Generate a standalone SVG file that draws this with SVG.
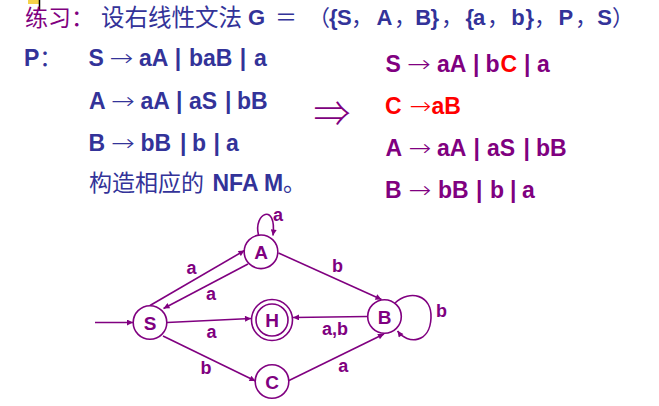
<svg xmlns="http://www.w3.org/2000/svg" width="659" height="406" viewBox="0 0 659 406">
<defs>
<style>
.cjk{font-family:"Noto Sans CJK SC","Noto Sans",sans-serif;font-weight:normal}
.lat{font-family:"Liberation Sans",Arial,sans-serif;font-weight:bold}
.arr{font-family:"DejaVu Sans","Liberation Sans",sans-serif;font-weight:200;font-size:23px}
.ind{fill:#333399}
.pur{fill:#800080}
.red{fill:#FF0000}
.g{font-size:23px}
.t{font-size:22px}
.node circle{fill:#FFFFFF;stroke:#800080;stroke-width:1.6}
.node text{font-family:"Liberation Sans",Arial,sans-serif;font-weight:bold;font-size:19px;fill:#800080;text-anchor:middle}
.edge{fill:none;stroke:#800080;stroke-width:1.6;marker-end:url(#ah)}
.elab{font-family:"Liberation Sans",Arial,sans-serif;font-weight:bold;font-size:18px;fill:#800080;text-anchor:middle}
</style>
<marker id="ah" viewBox="0 0 10 10" refX="10" refY="5" markerWidth="8" markerHeight="6" markerUnits="userSpaceOnUse" orient="auto">
<path d="M0,0 L10,5 L0,10 z" fill="#800080"/>
</marker>
</defs>
<rect width="659" height="406" fill="#FFFFFF"/>
<rect x="28" y="0" width="11" height="4" fill="#F5D34A"/>
<line x1="39.5" y1="0" x2="39.5" y2="10" stroke="#000000" stroke-width="1.5"/>

<g id="title">
<text class="cjk pur" x="25" y="25.5" font-size="23">练习：</text>
<text class="cjk ind" x="101" y="25.5" font-size="23.5">设右线性文法</text>
<text class="ind t" y="25">
<tspan class="lat" x="248">G</tspan>
<tspan class="cjk" x="275">＝</tspan>
<tspan class="cjk" x="308">（</tspan>
<tspan class="lat" x="329">{</tspan><tspan class="lat" x="337">S</tspan>
<tspan class="cjk" x="351">，</tspan>
<tspan class="lat" x="376.5">A</tspan>
<tspan class="cjk" x="394">，</tspan>
<tspan class="lat" x="415.3">B</tspan><tspan class="lat" x="430.5">}</tspan>
<tspan class="cjk" x="441">，</tspan>
<tspan class="lat" x="465.5">{</tspan><tspan class="lat" x="473">a</tspan>
<tspan class="cjk" x="487">，</tspan>
<tspan class="lat" x="511.3">b</tspan><tspan class="lat" x="525.5">}</tspan>
<tspan class="cjk" x="534">，</tspan>
<tspan class="lat" x="558.5">P</tspan>
<tspan class="cjk" x="575">，</tspan>
<tspan class="lat" x="597.3">S</tspan>
<tspan class="cjk" x="612">）</tspan>
</text>
</g>

<g id="grammar-left" class="ind g">
<text class="lat" x="24" y="66">P<tspan class="cjk">：</tspan></text>
<text y="66"><tspan class="lat" x="88.5">S</tspan><tspan class="lat" x="139">aA</tspan><tspan class="lat" x="174.8">|</tspan><tspan class="lat" x="189">baB</tspan><tspan class="lat" x="239.8">|</tspan><tspan class="lat" x="254">a</tspan></text>
<text class="arr" x="109.5" y="66" textLength="24" lengthAdjust="spacingAndGlyphs">→</text>
<text y="109"><tspan class="lat" x="89">A</tspan><tspan class="lat" x="140.5">aA</tspan><tspan class="lat" x="176">|</tspan><tspan class="lat" x="189">aS</tspan><tspan class="lat" x="225">|</tspan><tspan class="lat" x="237">bB</tspan></text>
<text class="arr" x="111" y="109" textLength="24" lengthAdjust="spacingAndGlyphs">→</text>
<text y="151"><tspan class="lat" x="88.5">B</tspan><tspan class="lat" x="140.5">bB</tspan><tspan class="lat" x="180">|</tspan><tspan class="lat" x="192">b</tspan><tspan class="lat" x="213.5">|</tspan><tspan class="lat" x="226">a</tspan></text>
<text class="arr" x="111" y="151" textLength="24" lengthAdjust="spacingAndGlyphs">→</text>
<text y="191"><tspan class="cjk" x="89">构造相应的</tspan><tspan class="lat" x="212.5">NFA M</tspan><tspan class="cjk" x="283">。</tspan></text>
</g>

<g id="implies">
<text class="pur" x="313.5" y="126.5" font-family="Noto Sans CJK SC, DejaVu Sans, sans-serif" font-weight="300" font-size="36" textLength="37" lengthAdjust="spacingAndGlyphs">⇒</text>
</g>

<g id="grammar-right" class="pur g">
<text y="72"><tspan class="lat" x="385.5">S</tspan><tspan class="lat" x="437">aA</tspan><tspan class="lat" x="473">|</tspan><tspan class="lat" x="485.5">b</tspan><tspan class="lat red" x="500.5">C</tspan><tspan class="lat" x="524">|</tspan><tspan class="lat" x="537">a</tspan></text>
<text class="arr pur" x="407" y="72" textLength="24" lengthAdjust="spacingAndGlyphs">→</text>
<text y="114" class="red"><tspan class="lat" x="385">C</tspan><tspan class="lat" x="431.5">aB</tspan></text>
<text class="arr red" x="409.5" y="114" textLength="22" lengthAdjust="spacingAndGlyphs">→</text>
<text y="156"><tspan class="lat" x="385.5">A</tspan><tspan class="lat" x="437">aA</tspan><tspan class="lat" x="473.5">|</tspan><tspan class="lat" x="487">aS</tspan><tspan class="lat" x="523.5">|</tspan><tspan class="lat" x="536">bB</tspan></text>
<text class="arr pur" x="408.5" y="156" textLength="23" lengthAdjust="spacingAndGlyphs">→</text>
<text y="198"><tspan class="lat" x="385">B</tspan><tspan class="lat" x="438">bB</tspan><tspan class="lat" x="476">|</tspan><tspan class="lat" x="490">b</tspan><tspan class="lat" x="510">|</tspan><tspan class="lat" x="522">a</tspan></text>
<text class="arr pur" x="408.5" y="198" textLength="23" lengthAdjust="spacingAndGlyphs">→</text>
</g>

<g id="connectors">
<path class="edge" d="M95,322.5 L133,322.5"/>
<path class="edge" d="M150,305.5 L244.5,250.5"/>
<path class="edge" d="M248,264 L163.5,308.5"/>
<path class="edge" d="M167,322.5 L251,318.5"/>
<path class="edge" d="M163,336 L255.5,381"/>
<path class="edge" d="M289,380.5 L384,334"/>
<path class="edge" d="M278.5,253 L381.5,299.5"/>
<path class="edge" d="M367.5,316.5 L293,317.5"/>
<path class="edge" d="M258.5,235 C253,213 277,202 273,235.5"/>
<path class="edge" d="M395,303 C410,289 432,295 431,318 C430,343 408,345 397.5,331"/>
<text class="elab" x="191.5" y="274">a</text>
<text class="elab" x="211" y="300">a</text>
<text class="elab" x="211.5" y="337.5">a</text>
<text class="elab" x="337.5" y="271.5">b</text>
<text class="elab" x="335" y="335">a,b</text>
<text class="elab" x="441.5" y="317">b</text>
<text class="elab" x="206" y="374">b</text>
<text class="elab" x="343.3" y="371.5">a</text>
<text class="elab" x="278" y="220.5">a</text>
</g>

<g id="node-S" class="node"><circle cx="150" cy="322.5" r="16.8"/><text x="150" y="329.5">S</text></g>
<g id="node-A" class="node"><circle cx="261" cy="251.8" r="16.8"/><text x="261" y="258.8">A</text></g>
<g id="node-H" class="node"><circle cx="272" cy="320" r="20.5"/><circle cx="272" cy="320" r="16"/><text x="272" y="327">H</text></g>
<g id="node-B" class="node"><circle cx="384.5" cy="316.5" r="16.8"/><text x="384.5" y="323.5">B</text></g>
<g id="node-C" class="node"><circle cx="272" cy="381.5" r="16.8"/><text x="272" y="388.5">C</text></g>
</svg>
